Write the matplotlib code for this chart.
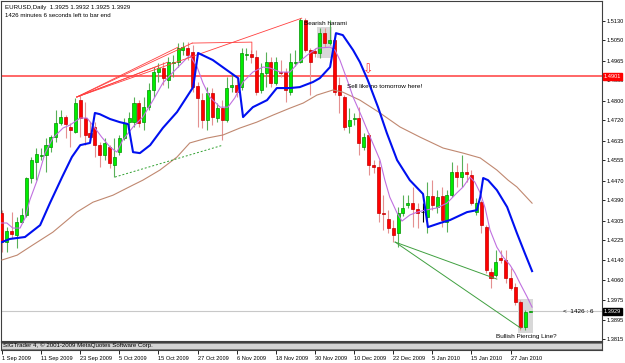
import matplotlib.pyplot as plt
from matplotlib.patches import Rectangle
from matplotlib.transforms import blended_transform_factory

plt.rcParams['font.family'] = ['Liberation Sans Narrow', 'Liberation Sans', 'DejaVu Sans']

# daily EURUSD candles, 1 Sep 2009 .. 1 Feb 2010 (bar index = position)
opens = [1.4336, 1.4216, 1.4262, 1.4245, 1.4299, 1.4328, 1.4481, 1.4547, 1.4572, 1.4576,
         1.4609, 1.4650, 1.4708, 1.4733, 1.4692, 1.4671, 1.4803, 1.4729, 1.4667, 1.4692,
         1.4617, 1.4576, 1.4609, 1.4534, 1.4588, 1.4646, 1.4712, 1.4712, 1.4791, 1.4712,
         1.4774, 1.4845, 1.4919, 1.4936, 1.4886, 1.4956, 1.4960, 1.5010, 1.5018, 1.5002,
         1.4861, 1.4803, 1.4721, 1.4832, 1.4729, 1.4770, 1.4721, 1.4857, 1.4865, 1.4857,
         1.4989, 1.4994, 1.4981, 1.4845, 1.4915, 1.4960, 1.4874, 1.4919, 1.4919, 1.4836,
         1.4956, 1.4960, 1.5134, 1.5010, 1.5006, 1.4998, 1.5080, 1.5039, 1.5051, 1.4865,
         1.4816, 1.4696, 1.4725, 1.4729, 1.4609, 1.4659, 1.4534, 1.4526, 1.4336, 1.4311,
         1.4274, 1.4253, 1.4336, 1.4369, 1.4377, 1.4353, 1.4340, 1.4319, 1.4406, 1.4361,
         1.4406, 1.4299, 1.4410, 1.4506, 1.4485, 1.4506, 1.4493, 1.4340, 1.4381, 1.4278,
         1.4092, 1.4080, 1.4150, 1.4142, 1.4067, 1.4030, 1.3968, 1.3865, 1.3925]
highs = [1.4348, 1.4278, 1.4340, 1.4319, 1.4357, 1.4485, 1.4568, 1.4605, 1.4605, 1.4646,
         1.4659, 1.4762, 1.4762, 1.4741, 1.4708, 1.4812, 1.4824, 1.4795, 1.4712, 1.4712,
         1.4630, 1.4646, 1.4617, 1.4646, 1.4659, 1.4729, 1.4754, 1.4816, 1.4803, 1.4816,
         1.4874, 1.4940, 1.4956, 1.4960, 1.4981, 1.4989, 1.5039, 1.5043, 1.5043, 1.5031,
         1.4878, 1.4832, 1.4857, 1.4853, 1.4791, 1.4803, 1.4898, 1.4915, 1.4898, 1.5018,
         1.5018, 1.5010, 1.5010, 1.4956, 1.5002, 1.4981, 1.4981, 1.4969, 1.4936, 1.4998,
         1.5010, 1.5142, 1.5142, 1.5018, 1.5018, 1.5101, 1.5101, 1.5134, 1.5080, 1.4898,
         1.4824, 1.4770, 1.4750, 1.4774, 1.4667, 1.4667, 1.4555, 1.4555, 1.4410, 1.4348,
         1.4307, 1.4361, 1.4410, 1.4410, 1.4444, 1.4377, 1.4377, 1.4464, 1.4472, 1.4431,
         1.4444, 1.4431, 1.4547, 1.4534, 1.4576, 1.4543, 1.4514, 1.4398, 1.4390, 1.4286,
         1.4109, 1.4183, 1.4183, 1.4183, 1.4109, 1.4047, 1.3976, 1.3935, 1.3932]
lows = [1.4175, 1.4175, 1.4233, 1.4191, 1.4295, 1.4319, 1.4460, 1.4472, 1.4555, 1.4506,
        1.4588, 1.4630, 1.4700, 1.4646, 1.4609, 1.4667, 1.4650, 1.4617, 1.4638, 1.4568,
        1.4526, 1.4555, 1.4522, 1.4485, 1.4576, 1.4638, 1.4679, 1.4692, 1.4692, 1.4679,
        1.4762, 1.4816, 1.4878, 1.4865, 1.4853, 1.4898, 1.4940, 1.4989, 1.4969, 1.4836,
        1.4692, 1.4688, 1.4679, 1.4700, 1.4712, 1.4638, 1.4712, 1.4836, 1.4816, 1.4845,
        1.4969, 1.4956, 1.4824, 1.4832, 1.4857, 1.4857, 1.4865, 1.4898, 1.4795, 1.4824,
        1.4944, 1.4956, 1.5002, 1.4824, 1.4981, 1.4977, 1.5022, 1.5031, 1.4824, 1.4750,
        1.4679, 1.4667, 1.4700, 1.4576, 1.4597, 1.4493, 1.4501, 1.4299, 1.4266, 1.4253,
        1.4216, 1.4195, 1.4324, 1.4357, 1.4278, 1.4274, 1.4299, 1.4253, 1.4348, 1.4336,
        1.4278, 1.4257, 1.4402, 1.4444, 1.4444, 1.4464, 1.4369, 1.4328, 1.4253, 1.4088,
        1.4026, 1.4071, 1.4129, 1.4047, 1.4018, 1.3956, 1.3852, 1.3852, 1.3925]
closes = [1.4216, 1.4262, 1.4249, 1.4299, 1.4328, 1.4481, 1.4555, 1.4580, 1.4576, 1.4617,
          1.4650, 1.4708, 1.4733, 1.4704, 1.4679, 1.4791, 1.4729, 1.4659, 1.4650, 1.4617,
          1.4576, 1.4626, 1.4543, 1.4568, 1.4646, 1.4708, 1.4729, 1.4791, 1.4708, 1.4774,
          1.4845, 1.4919, 1.4936, 1.4894, 1.4960, 1.4960, 1.5018, 1.5022, 1.4989, 1.4857,
          1.4812, 1.4721, 1.4832, 1.4733, 1.4770, 1.4721, 1.4853, 1.4865, 1.4836, 1.4998,
          1.4994, 1.4981, 1.4836, 1.4915, 1.4960, 1.4874, 1.4960, 1.4915, 1.4845, 1.4960,
          1.4960, 1.5134, 1.5010, 1.4960, 1.4998, 1.5080, 1.5039, 1.5051, 1.4836, 1.4824,
          1.4692, 1.4721, 1.4729, 1.4626, 1.4650, 1.4534, 1.4526, 1.4336, 1.4332, 1.4274,
          1.4245, 1.4336, 1.4357, 1.4377, 1.4353, 1.4336, 1.4340, 1.4406, 1.4369, 1.4402,
          1.4307, 1.4410, 1.4506, 1.4485, 1.4506, 1.4497, 1.4377, 1.4377, 1.4286, 1.4100,
          1.4067, 1.4133, 1.4142, 1.4067, 1.4026, 1.3968, 1.3865, 1.3927, 1.3929]

date_labels = ["1 Sep 2009", "11 Sep 2009", "23 Sep 2009", "5 Oct 2009", "15 Oct 2009",
               "27 Oct 2009", "6 Nov 2009", "18 Nov 2009", "30 Nov 2009", "10 Dec 2009",
               "22 Dec 2009", "5 Jan 2010", "15 Jan 2010", "27 Jan 2010"]
date_bars = [0, 8, 16, 24, 32, 40, 48, 56, 64, 72, 80, 88, 96, 104]

price_ticks = [1.5130, 1.5050, 1.4965, 1.4885, 1.4800, 1.4720, 1.4635, 1.4555, 1.4470,
               1.4390, 1.4305, 1.4225, 1.4140, 1.4060, 1.3975, 1.3895, 1.3815]

# indicator lines (bar, price)
blue_x = [0, 1.6, 4.7, 7.8, 9.8, 12.3, 14.3, 16.0, 18.0, 19.0, 20.0, 22.1, 24.1, 25.8,
          26.8, 28.2, 30.3, 32.9, 35.8, 39.1, 40.1, 43.1, 46.0, 48.3, 49.3, 51.3, 54.2,
          56.2, 58.9, 60.9, 63.6, 65.0, 67.1, 68.3, 69.7, 71.8, 73.2, 74.8, 76.9, 78.7,
          80.8, 83.4, 86.1, 87.1, 89.6, 91.6, 95.1, 97.1, 97.8, 98.4, 99.4, 101.2, 103.3,
          105.3, 106.9, 108.4]
blue_y = [1.4216, 1.4229, 1.4237, 1.4286, 1.4377, 1.4485, 1.4568, 1.4617, 1.4626, 1.4750,
          1.4745, 1.4725, 1.4712, 1.4704, 1.4588, 1.4584, 1.4617, 1.4688, 1.4754, 1.4857,
          1.4998, 1.4969, 1.4927, 1.4894, 1.4733, 1.4774, 1.4803, 1.4853, 1.4853, 1.4857,
          1.4878, 1.4894, 1.4940, 1.5080, 1.5072, 1.5010, 1.4960, 1.4886, 1.4774, 1.4667,
          1.4555, 1.4472, 1.4415, 1.4278, 1.4295, 1.4307, 1.4340, 1.4348, 1.4402, 1.4481,
          1.4472, 1.4431, 1.4361, 1.4253, 1.4171, 1.4096]

purple_x = [-0.4, 1.0, 2.2, 3.7, 4.7, 5.7, 7.2, 8.8, 10.4, 12.5, 13.9, 16.0, 17.4, 19.0,
            20.4, 22.1, 23.5, 24.7, 26.8, 28.8, 30.9, 32.9, 35.0, 37.0, 38.4, 39.9, 41.1,
            42.5, 44.6, 46.2, 47.6, 49.3, 51.3, 53.4, 54.8, 56.9, 58.9, 60.5, 62.4, 64.4,
            67.1, 68.1, 69.1, 70.6, 71.8, 73.6, 75.3, 77.3, 78.3, 79.3, 80.8, 81.8, 83.4,
            84.9, 86.5, 88.9, 91.0, 93.0, 94.3, 95.7, 96.7, 97.8, 98.8, 99.8, 101.2, 102.5,
            103.9, 104.9, 105.9, 107.4, 108.4]
purple_y = [1.4295, 1.4295, 1.4274, 1.4274, 1.4315, 1.4390, 1.4472, 1.4584, 1.4646, 1.4688,
            1.4700, 1.4729, 1.4729, 1.4688, 1.4650, 1.4609, 1.4588, 1.4638, 1.4692, 1.4733,
            1.4803, 1.4874, 1.4919, 1.4960, 1.4989, 1.4940, 1.4874, 1.4816, 1.4774, 1.4774,
            1.4812, 1.4878, 1.4919, 1.4940, 1.4936, 1.4919, 1.4919, 1.4956, 1.4989, 1.5018,
            1.5022, 1.5010, 1.4969, 1.4886, 1.4816, 1.4733, 1.4650, 1.4555, 1.4472, 1.4402,
            1.4336, 1.4303, 1.4328, 1.4340, 1.4348, 1.4357, 1.4377, 1.4419, 1.4444, 1.4485,
            1.4464, 1.4419, 1.4357, 1.4266, 1.4195, 1.4154, 1.4121, 1.4088, 1.4047, 1.3989,
            1.3947]

brown_x = [0, 3.1, 6.3, 10.4, 15.3, 18.6, 22.7, 26.8, 28.8, 32.3, 35.8, 38.4, 41.9, 45.2,
           48.7, 52.1, 55.4, 58.9, 61.6, 64.4, 67.7, 69.7, 73.2, 77.3, 81.4, 85.5, 90.2,
           94.3, 97.8, 101.2, 103.5, 105.3, 108.4]
brown_y = [1.4142, 1.4162, 1.4204, 1.4257, 1.4340, 1.4381, 1.4410, 1.4452, 1.4472, 1.4514,
           1.4568, 1.4626, 1.4646, 1.4659, 1.4688, 1.4712, 1.4741, 1.4770, 1.4791, 1.4824,
           1.4845, 1.4836, 1.4803, 1.4750, 1.4692, 1.4650, 1.4605, 1.4584, 1.4564, 1.4514,
           1.4472, 1.4444, 1.4377]

# red trend-line fan from the 23 Sep low
fan_start = (15.3, 1.4816)
fan_ends = [(61.3, 1.5142), (38.9, 1.5039), (36.0, 1.5022), (33.9, 1.4960), (31.9, 1.4944)]
level_line = 1.4901
bid_price = 1.3929

W, H = 625, 363
fig = plt.figure(figsize=(W / 100, H / 100), dpi=100)
fig.patch.set_facecolor('white')
ax = fig.add_axes([1 / W, 22 / H, 601 / W, 340 / H])
ax.set_xlim(-0.2, 122.7)
ax.set_ylim(1.3807, 1.5213)

n = len(opens)
for i in range(n):
    o, h, l, c = opens[i], highs[i], lows[i], closes[i]
    if c > o:
        wick, face, edge = '#58b058', '#00ee00', '#009000'
    elif c < o:
        wick, face, edge = '#e49090', '#ff0000', '#c00000'
    else:
        wick, face, edge = '#000000', '#000000', '#000000'
    ax.vlines(i, l, h, color=wick, lw=0.8, zorder=2)
    ax.bar(i, max(abs(c - o), 0.00025), bottom=min(o, c), width=0.62,
           color=face, edgecolor=edge, lw=0.5, zorder=3)

ax.plot(brown_x, brown_y, color='#c08870', lw=0.8, zorder=4)
ax.plot(purple_x, purple_y, color='#c070e0', lw=0.8, zorder=4)
ax.plot(blue_x, blue_y, color='#0010f0', lw=1.5, zorder=5)

# trend lines
for ex, ey in fan_ends:
    ax.plot([fan_start[0], ex], [fan_start[1], ey], color='#ff4040', lw=0.6, zorder=4)
ax.plot([38.9, 51.1, 51.1], [1.5039, 1.5043, 1.4998], color='#ff4040', lw=0.6, zorder=4)
ax.plot([23.1, 45.2], [1.4485, 1.4617], color='#30a030', lw=0.7, ls=(0, (2, 2)), zorder=4)
ax.plot([80.4, 101.2], [1.4216, 1.4063], color='#40a040', lw=0.7, zorder=4)
ax.plot([80.4, 106.1], [1.4216, 1.3860], color='#40a040', lw=0.7, zorder=4)

ax.axhline(level_line, color='#ff5a5a', lw=1.3, zorder=1)
ax.axhline(bid_price, color='#c8c8c8', lw=0.8, zorder=1)

# pattern highlight boxes
ax.add_patch(Rectangle((64.4, 1.4977), 3.1, 0.0128, facecolor='#d8d8d8', edgecolor='none', zorder=1))
ax.add_patch(Rectangle((105.5, 1.3840), 3.1, 0.0140, facecolor='#d8d8d8', edgecolor='none', zorder=1))

fs_note = 4.6
fs_axis = 4.1
ax.text(61.8, 1.5118, "Bearish harami", fontsize=fs_note, va='center', ha='left', zorder=6)
ax.text(70.6, 1.4861, "Sell like no tomorrow here!", fontsize=fs_note, va='center', ha='left', zorder=6)
ax.text(101.0, 1.3827, "Bullish Piercing Line?", fontsize=fs_note, va='center', ha='left', zorder=6)
ax.text(114.7, bid_price, "<  1426 : 6", fontsize=fs_note, va='center', ha='left', zorder=6)
ax.text(74.8, 1.4927, "\u21e9", fontsize=9, color='#ff3030', va='center', ha='center', zorder=6,
        family='DejaVu Sans')

ax.text(0.006, 0.982, "EURUSD,Daily  1.3925 1.3932 1.3925 1.3929", transform=ax.transAxes,
        fontsize=4.4, va='center', ha='left')
ax.text(0.006, 0.958, "1426 minutes 6 seconds left to bar end", transform=ax.transAxes,
        fontsize=4.4, va='center', ha='left')

# right price scale
ax.yaxis.tick_right()
ax.set_yticks(price_ticks)
ax.set_yticklabels([f"{p:.4f}" for p in price_ticks])
ax.tick_params(axis='y', direction='out', length=2, width=0.6, pad=1.5, labelsize=fs_axis)
ax.set_xticks([])
for s in ax.spines.values():
    s.set_linewidth(0.8)
    s.set_color('#404040')

tr = blended_transform_factory(ax.transAxes, ax.transData)
ax.text(1.003, level_line, "1.4901", transform=tr, fontsize=fs_axis, color='white', va='center',
        ha='left', zorder=7, bbox=dict(boxstyle='square,pad=0.2', fc='#ff0000', ec='#ff0000'),
        clip_on=False)
ax.text(1.003, bid_price, "1.3929", transform=tr, fontsize=fs_axis, color='white', va='center',
        ha='left', zorder=7, bbox=dict(boxstyle='square,pad=0.2', fc='#000000', ec='#000000'),
        clip_on=False)

# thin sub window strip and date scale
sub = fig.add_axes([1 / W, 13 / H, 601 / W, 8 / H])
sub.set_xlim(ax.get_xlim())
sub.set_facecolor('#d4d4d4')
sub.set_ylim(0, 1)
for yy in (0.15, 0.85):
    sub.axhline(yy, color='#707070', lw=0.6)
sub.text(0.003, 0.55, "SIGTrader 4, \u00a9 2001-2009 MetaQuotes Software Corp.",
         transform=sub.transAxes, fontsize=4.4, va='center', ha='left')
sub.set_yticks([])
sub.set_xticks(date_bars)
sub.set_xticklabels(date_labels, ha='left')
sub.tick_params(axis='x', direction='out', length=3, width=0.6, pad=1, labelsize=4.1)
for s in sub.spines.values():
    s.set_linewidth(0.8)
    s.set_color('#404040')

fig.savefig('out.png', dpi=100)
